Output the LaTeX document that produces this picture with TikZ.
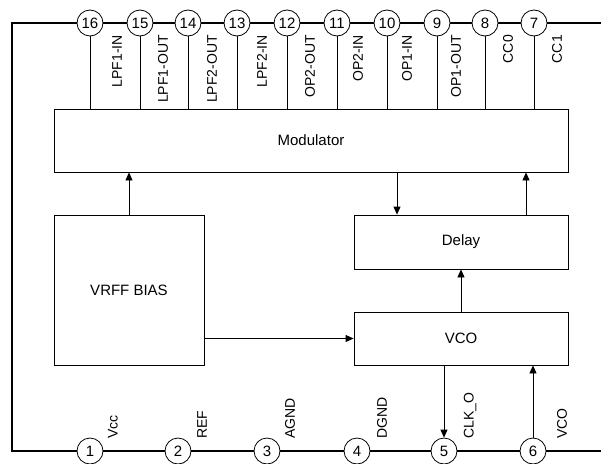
\documentclass[tikz,border=0pt]{standalone}
\usepackage{fontspec}
\setmainfont{Liberation Sans}
\usetikzlibrary{arrows.meta}
\begin{document}
\begin{tikzpicture}[x=1pt,y=-1pt,
 box/.style={draw, line width=0.8pt, inner sep=0pt, font=\fontsize{15}{18}\selectfont},
 pin/.style={draw, circle, fill=white, line width=0.8pt, minimum size=26pt, inner sep=0pt, font=\fontsize{15}{18}\selectfont},
 lbl/.style={rotate=90, inner sep=0pt, font=\fontsize{14}{16}\selectfont},
 wire/.style={line width=0.8pt},
 arr/.style={line width=0.8pt, -{Triangle[length=8pt,width=7pt]}},
 frameline/.style={line width=1.2pt}]
\useasboundingbox (0,0) rectangle (601,463);
\node[box, minimum width=514pt, minimum height=63pt] (mod) at (311,140.5) {Modulator};
\node[box, minimum width=150pt, minimum height=150pt] (vrff) at (129,290) {VRFF BIAS};
\node[box, minimum width=214pt, minimum height=54pt] (delay) at (461,242) {Delay};
\node[box, minimum width=214pt, minimum height=53pt] (vco) at (461,338.5) {VCO};
\coordinate (tr) at (601,23);
\coordinate (tl) at (12,23);
\coordinate (bl) at (12,451);
\coordinate (br) at (601,451);
\draw[frameline] (tr) -- (tl) -- (bl) -- (br);
\foreach \n/\x/\lx/\t in {16/90/117/LPF1-IN, 15/140/163/LPF1-OUT, 14/188/212/LPF2-OUT, 13/237/262/LPF2-IN, 12/287/310/OP2-OUT, 11/337/358/OP2-IN, 10/387/407/OP1-IN, 9/437/456/OP1-OUT, 8/485/508/CC0, 7/534/557/CC1}{
  \node[pin] (p\n) at (\x,23) {\n};
  \draw[wire] (p\n) -- (p\n |- mod.north);
  \node[lbl, anchor=east] (l\n) at (\lx,35) {\t};
}
\foreach \n/\x/\lx/\t in {1/90/113/Vcc, 2/178/202/REF, 3/267/290/AGND, 4/357/382/DGND, 5/444/470/CLK\_O, 6/533/562/VCO}{
  \node[pin] (p\n) at (\x,451) {\n};
  \node[lbl, anchor=west] (l\n) at (\lx,439) {\t};
}
\coordinate (a1) at (397,0);
\coordinate (a2) at (526,0);
\draw[arr] (vrff.north) -- (vrff.north |- mod.south);
\draw[arr] (a1 |- mod.south) -- (a1 |- delay.north);
\draw[arr] (a2 |- delay.north) -- (a2 |- mod.south);
\draw[arr] (vco.north) -- (delay.south);
\draw[arr] (vrff.east |- vco.west) -- (vco.west);
\draw[arr] (p5 |- vco.south) -- (p5);
\draw[arr] (p6) -- (p6 |- vco.south);
\end{tikzpicture}
\end{document}
